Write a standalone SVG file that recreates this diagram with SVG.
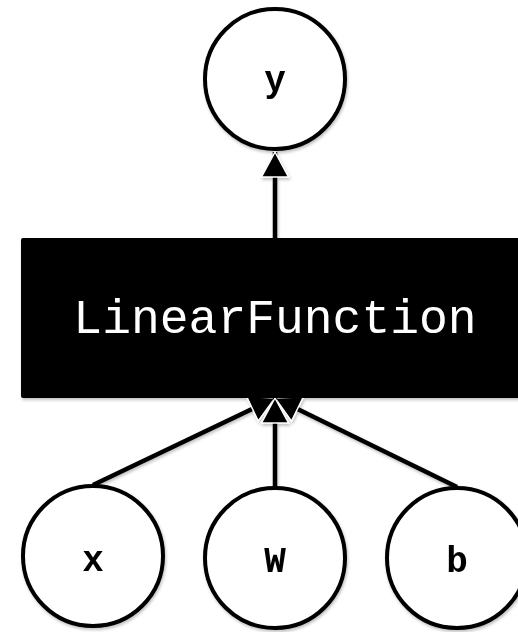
<svg xmlns="http://www.w3.org/2000/svg" width="518" height="632" viewBox="0 0 518 632">
  <style>
    .var circle { fill: #ffffff; stroke: #000000; stroke-width: 4; }
    .var text { font-family: "Liberation Mono", "Courier New", monospace; font-weight: bold; font-size: 36px; fill: #000000; text-anchor: middle; }
    .func rect { fill: #000000; }
    .func text { font-family: "Liberation Mono", "Courier New", monospace; font-size: 48px; fill: #ffffff; text-anchor: middle; }
    .edge { stroke: #000000; stroke-width: 4.5; fill: none; marker-end: url(#arrow); }
  </style>
  <defs>
    <marker id="arrow" markerUnits="userSpaceOnUse" markerWidth="30" markerHeight="32" viewBox="-2 -2 30 32" refX="25" refY="13.5" orient="auto">
      <path d="M0,0 L25,13.5 L0,27 Z" fill="#000000" stroke="#ffffff" stroke-width="1.5" stroke-linejoin="miter"/>
    </marker>
    <filter id="shadow" x="-10%" y="-10%" width="130%" height="130%">
      <feDropShadow dx="1" dy="2" stdDeviation="1.5" flood-color="#000000" flood-opacity="0.25"/>
    </filter>
  </defs>

  <g filter="url(#shadow)">
    <!-- connectors (drawn first so the function box covers the arrow tips) -->
    <g id="connectors">
      <line class="edge" x1="275" y1="240" x2="275" y2="152"/>
      <line class="edge" x1="93" y1="485" x2="275" y2="398"/>
      <line class="edge" x1="457" y1="487" x2="275" y2="398"/>
      <line class="edge" x1="275" y1="487" x2="275" y2="398"/>
    </g>

    <!-- function node -->
    <g id="linear-function" class="func">
      <rect x="21" y="238" width="508" height="160" rx="2"/>
      <text x="275" y="333">LinearFunction</text>
    </g>

    <!-- variable nodes -->
    <g id="y" class="var">
      <circle cx="275" cy="79" r="70"/>
      <text x="275" y="91">y</text>
    </g>
    <g id="x" class="var">
      <circle cx="93" cy="556" r="70"/>
      <text x="93" y="571">x</text>
    </g>
    <g id="W" class="var">
      <circle cx="275" cy="558" r="70"/>
      <text x="275" y="572">W</text>
    </g>
    <g id="b" class="var">
      <circle cx="457" cy="558" r="70"/>
      <text x="457" y="572">b</text>
    </g>
  </g>
</svg>
